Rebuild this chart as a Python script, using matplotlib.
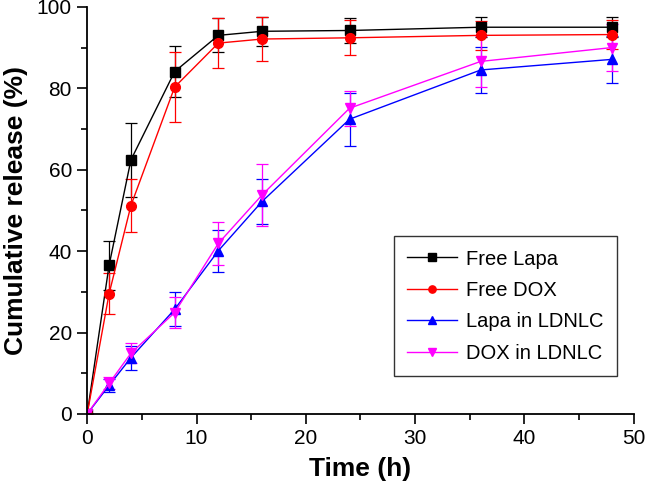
import numpy as np
import matplotlib
matplotlib.use("Agg")
import matplotlib.pyplot as plt
from matplotlib.ticker import MultipleLocator

plt.rcParams['font.family'] = ['Liberation Sans', 'DejaVu Sans']

time_h = [0, 2, 4, 8, 12, 16, 24, 36, 48]

free_lapa = [0, 36.5, 62.4, 84.1, 93.0, 94.0, 94.2, 95.0, 95.0]
free_lapa_err = [0, 6.0, 9.0, 6.3, 4.2, 3.5, 3.0, 2.5, 2.5]

free_dox = [0, 29.5, 51.2, 80.3, 91.1, 92.1, 92.4, 93.0, 93.2]
free_dox_err = [0, 5.0, 6.4, 8.5, 6.2, 5.5, 4.3, 3.6, 3.6]

lapa_ldnlc = [0, 7.0, 13.8, 25.7, 40.1, 52.2, 72.4, 84.5, 87.1]
lapa_ldnlc_err = [0, 1.5, 3.0, 4.2, 5.2, 5.5, 6.5, 5.6, 5.7]

dox_ldnlc = [0, 7.5, 14.9, 24.9, 41.9, 53.8, 75.1, 86.6, 90.0]
dox_ldnlc_err = [0, 1.5, 2.5, 3.7, 5.3, 7.6, 4.3, 6.3, 5.7]

series = [
    ("Free Lapa", free_lapa, free_lapa_err, "black", "s"),
    ("Free DOX", free_dox, free_dox_err, "red", "o"),
    ("Lapa in LDNLC", lapa_ldnlc, lapa_ldnlc_err, "blue", "^"),
    ("DOX in LDNLC", dox_ldnlc, dox_ldnlc_err, "magenta", "v"),
]

fig = plt.figure(figsize=(6.46, 4.91), dpi=100)
ax = fig.add_axes([0.135, 0.157, 0.846, 0.829])

handles = []
for label, vals, err, color, marker in series:
    cont = ax.errorbar(time_h, vals, yerr=err, color=color, marker=marker,
                       markersize=7, linewidth=1, elinewidth=0.9, capsize=4,
                       capthick=0.9, label=label)
    handles.append(cont[0])

ax.set_xlim(0, 50)
ax.set_ylim(0, 100)
ax.xaxis.set_major_locator(MultipleLocator(10))
ax.xaxis.set_minor_locator(MultipleLocator(5))
ax.yaxis.set_major_locator(MultipleLocator(20))
ax.yaxis.set_minor_locator(MultipleLocator(10))
ax.tick_params(which='both', direction='out', labelsize=15, width=1.2)
ax.tick_params(which='major', length=7, pad=4)
ax.tick_params(which='minor', length=4)
ax.spines['top'].set_visible(False)
ax.spines['right'].set_visible(False)
ax.spines['left'].set_linewidth(1.3)
ax.spines['bottom'].set_linewidth(1.3)

ax.set_xlabel("Time (h)", fontsize=19, fontweight='bold', labelpad=6)
ax.set_ylabel("Cumulative release (%)", fontsize=19, fontweight='bold', labelpad=6)

# legend shows markers only, no error bars
leg = ax.legend(handles, [s[0] for s in series], loc='lower right',
                bbox_to_anchor=(0.969, 0.093), borderaxespad=0, fontsize=14.5,
                fancybox=False, edgecolor='#333333', framealpha=1,
                handlelength=2.5, handletextpad=0.45, borderpad=0.65,
                labelspacing=0.62, markerscale=0.75)
leg.get_frame().set_linewidth(1.0)

fig.savefig("out.png", dpi=100)
